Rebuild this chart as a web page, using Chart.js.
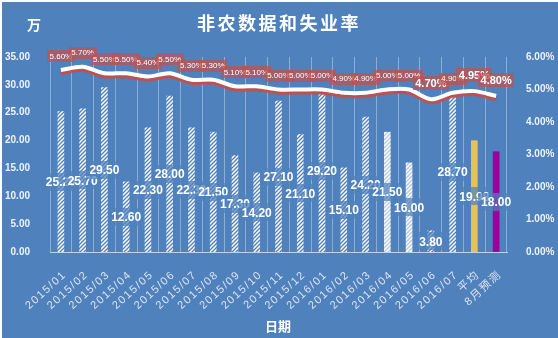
<!DOCTYPE html>
<html>
<head>
<meta charset="utf-8">
<script src="https://cdn.jsdelivr.net/npm/chart.js@4"></script>
<style>
  body { margin: 0; background: #fff; }
  canvas { display: block; }
</style>
</head>
<body>
<canvas id="nfpChart" width="558" height="338"></canvas>
<script>
const months = ['2015/01', '2015/02', '2015/03', '2015/04', '2015/05', '2015/06', '2015/07',
    '2015/08', '2015/09', '2015/10', '2015/11', '2015/12', '2016/01', '2016/02', '2016/03',
    '2016/04', '2016/05', '2016/06', '2016/07', '平均', '8月预测'];
const payrolls = [25.2, 25.7, 29.5, 12.6, 22.3, 28.0, 22.3, 21.5, 17.3, 14.2, 27.1,
    21.1, 29.2, 15.1, 24.2, 21.5, 16.0, 3.8, 28.7, 19.98, 18.0];
const jobless = [5.6, 5.7, 5.5, 5.5, 5.4, 5.5, 5.3, 5.3, 5.1, 5.1, 5.0,
    5.0, 5.0, 4.9, 4.9, 5.0, 5.0, 4.7, 4.9, 4.95, 4.8];
const payrollTicks = [0, 5, 10, 15, 20, 25, 30, 35];
const rateTicks = [0, 1, 2, 3, 4, 5, 6];

const BG = '#4f81bd';

// diagonal hatch fill for the monthly bars
function makeHatch(stripe) {
    const c = document.createElement('canvas');
    c.width = 4; c.height = 4;
    const g = c.getContext('2d');
    g.fillStyle = '#ffffff';
    g.fillRect(0, 0, 4, 4);
    g.strokeStyle = stripe;
    g.lineWidth = 1.3;
    g.beginPath();
    g.moveTo(0, 4); g.lineTo(4, 0);
    g.moveTo(-1, 1); g.lineTo(1, -1);
    g.moveTo(3, 5); g.lineTo(5, 3);
    g.stroke();
    return g.createPattern(c, 'repeat');
}
const hatch = makeHatch(BG);
const hatchLight = makeHatch('#b4c6e0');

const barColors = payrolls.map((_, i) => {
    if (i === 19) return '#e4c257';
    if (i === 20) return '#9e009e';
    if (i === 15 || i === 16) return hatchLight;
    return hatch;
});

function box(ctx, x, y, w, h) {
    ctx.fillRect(Math.round(x), Math.round(y), Math.round(w), Math.round(h));
}

const backdrop = {
    id: 'backdrop',
    beforeDraw(chart) {
        const ctx = chart.ctx;
        ctx.save();
        ctx.fillStyle = '#ffffff';
        ctx.fillRect(0, 0, chart.width, chart.height);
        ctx.fillStyle = BG;
        ctx.fillRect(2, 2, chart.width - 2, chart.height - 2);
        ctx.restore();
    },
    afterDraw(chart) {
        const ctx = chart.ctx;
        ctx.save();
        ctx.fillStyle = '#ffffff';
        ctx.textAlign = 'center';
        ctx.textBaseline = 'middle';
        ctx.font = 'bold 18px "Noto Sans CJK SC"';
        ctx.letterSpacing = '2.5px';
        ctx.fillText('非农数据和失业率', 279, 23);
        ctx.letterSpacing = '0px';
        ctx.font = 'bold 14px "Noto Sans CJK SC"';
        ctx.fillText('万', 34, 25);
        ctx.font = 'bold 13px "Noto Sans CJK SC"';
        ctx.fillText('日期', 278, 326);

        // rotated category labels
        const xs = chart.scales.x;
        ctx.fillStyle = '#dbe4f1';
        ctx.textAlign = 'right';
        ctx.font = '11px "Liberation Sans", "Noto Sans CJK SC"';
        ctx.letterSpacing = '1.6px';
        months.forEach((m, i) => {
            const x = xs.getPixelForValue(i);
            ctx.save();
            ctx.translate(x + 4, xs.top + 21);
            ctx.rotate(-0.74);
            ctx.fillText(m, 0, 0);
            ctx.restore();
        });
        ctx.restore();
    }
};

// red under-stroke below the white rate line
const lineShadow = {
    id: 'lineShadow',
    beforeDatasetDraw(chart, args) {
        if (args.index !== 1) return;
        const ctx = chart.ctx;
        ctx.save();
        ctx.shadowColor = '#c0504d';
        ctx.shadowOffsetY = 3;
        ctx.shadowBlur = 1;
    },
    afterDatasetDraw(chart, args) {
        if (args.index !== 1) return;
        chart.ctx.restore();
    }
};

const valueLabels = {
    id: 'valueLabels',
    afterDatasetsDraw(chart) {
        const ctx = chart.ctx;
        ctx.save();
        ctx.textAlign = 'center';
        ctx.textBaseline = 'middle';

        chart.getDatasetMeta(0).data.forEach((bar, i) => {
            const txt = payrolls[i].toFixed(2);
            const cy = (bar.y + bar.base) / 2;
            ctx.font = 'bold 12px "Liberation Sans"';
            const w = ctx.measureText(txt).width + 6;
            ctx.fillStyle = 'rgba(79,129,189,0.72)';
            box(ctx, bar.x - w / 2, cy - 9, w, 18);
            ctx.fillStyle = '#ffffff';
            ctx.fillText(txt, bar.x, cy + 1);
        });

        chart.getDatasetMeta(1).data.forEach((pt, i) => {
            const txt = jobless[i].toFixed(2) + '%';
            const big = i >= 17 && i !== 18;
            ctx.font = big ? 'bold 11px "Liberation Sans"' : '8px "Liberation Sans"';
            const w = ctx.measureText(txt).width + 5;
            const h = big ? 14 : 12;
            const cy = pt.y - (big ? 16 : 14);
            ctx.fillStyle = 'rgba(192,80,77,0.72)';
            box(ctx, pt.x - w / 2, cy - h / 2, w, h);
            ctx.fillStyle = '#ffffff';
            ctx.fillText(txt, pt.x, cy + 0.5);
        });
        ctx.restore();
    }
};

const tickFont = { family: 'Liberation Sans', size: 10, weight: 'bold' };

new Chart(document.getElementById('nfpChart'), {
    type: 'bar',
    data: {
        labels: months,
        datasets: [{
            label: '非农',
            data: payrolls,
            backgroundColor: barColors,
            barThickness: 6,
            yAxisID: 'y',
            order: 2
        }, {
            type: 'line',
            label: '失业率',
            data: jobless,
            borderColor: '#ffffff',
            borderWidth: 4,
            pointRadius: 0,
            tension: 0.3,
            yAxisID: 'y1',
            order: 1
        }]
    },
    options: {
        responsive: false,
        animation: false,
        layout: { padding: { top: 57, left: 0, right: 0, bottom: 0 } },
        plugins: {
            legend: { display: false },
            tooltip: { enabled: false }
        },
        scales: {
            x: {
                offset: true,
                grid: { offset: true, color: 'rgba(255,255,255,0.35)', drawTicks: false },
                border: { color: 'rgba(220,230,245,0.8)' },
                ticks: { display: false },
                afterFit(scale) { scale.height = 86; }
            },
            y: {
                position: 'left',
                min: 0,
                max: 35,
                afterBuildTicks(scale) { scale.ticks = payrollTicks.map(v => ({ value: v })); },
                grid: { display: false },
                border: { display: false },
                ticks: {
                    color: '#eef3fa',
                    font: tickFont,
                    padding: 12,
                    callback: v => v.toFixed(2)
                },
                afterFit(scale) { scale.width = 50; }
            },
            y1: {
                position: 'right',
                min: 0,
                max: 6,
                afterBuildTicks(scale) { scale.ticks = rateTicks.map(v => ({ value: v })); },
                grid: { display: false },
                border: { display: false },
                ticks: {
                    color: '#eef3fa',
                    font: tickFont,
                    padding: 11,
                    callback: v => v.toFixed(2) + '%'
                },
                afterFit(scale) { scale.width = 51; }
            }
        }
    },
    plugins: [backdrop, lineShadow, valueLabels]
});
</script>
</body>
</html>
